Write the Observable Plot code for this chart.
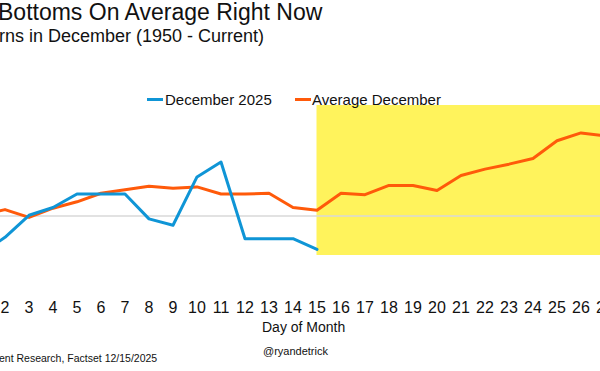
<!DOCTYPE html>
<html>
<head>
<meta charset="utf-8">
<script src="https://cdn.jsdelivr.net/npm/d3@7"></script>
<script src="https://cdn.jsdelivr.net/npm/@observablehq/plot@0.6"></script>
<style>
  html, body { margin: 0; padding: 0; background: #fff; overflow: hidden; }
  #wrap { position: relative; width: 600px; height: 371px; overflow: hidden; font-family: "Liberation Sans", Arial, sans-serif; color: #111; }
  #wrap svg { position: absolute; left: 0; top: 0; overflow: hidden; }
  .t { position: absolute; white-space: nowrap; line-height: 1; }
  .sw { position: absolute; height: 3px; }
</style>
</head>
<body>
<div id="wrap"></div>
<script>
// ---- data (cumulative % return by calendar day of December) ----
const days = [1,2,3,4,5,6,7,8,9,10,11,12,13,14,15,16,17,18,19,20,21,22,23,24,25,26,27];
const dec2025 = [-0.53,-0.30,0.01,0.12,0.31,0.31,0.31,-0.04,-0.13,0.55,0.76,-0.32,-0.32,-0.32,-0.47];
const avgDecember = [0.01,0.09,-0.02,0.11,0.20,0.32,0.37,0.42,0.39,0.41,0.31,0.31,0.32,0.12,0.08,0.32,0.30,0.43,0.43,0.36,0.57,0.66,0.73,0.81,1.06,1.17,1.13];
const tickDays = [2,3,4,5,6,7,8,9,10,11,12,13,14,15,16,17,18,19,20,21,22,23,24,25,26,27];
const highlightDays = [15, 31];
const seriesNames = ["December 2025", "Average December"];
const colors = ["#0f95d6", "#ff5a0a"];

const blueData = dec2025.map((v, i) => ({day: days[i], value: v}));
const orangeData = avgDecember.map((v, i) => ({day: days[i], value: v}));

const chart = Plot.plot({
  width: 600,
  height: 371,
  marginTop: 105,
  marginBottom: 116,
  marginLeft: 0,
  marginRight: 0,
  x: {domain: [1.8125, 26.8125], ticks: tickDays, tickFormat: d => String(d), tickSize: 0, tickPadding: 46, label: null},
  y: {domain: [-0.556, 1.556], axis: null},
  style: {fontFamily: "'Liberation Sans', Arial, sans-serif", fontSize: "16px", color: "#111", background: "transparent"},
  marks: [
    Plot.rect([0], {x1: highlightDays[0], x2: highlightDays[1], fill: "#fff35c", clip: true}),
    Plot.ruleY([0], {stroke: "#d9d9d9", strokeWidth: 1.5}),
    Plot.line(orangeData, {x: "day", y: "value", stroke: colors[1], strokeWidth: 3, clip: true}),
    Plot.line(blueData, {x: "day", y: "value", stroke: colors[0], strokeWidth: 3, clip: true})
  ]
});
const wrap = document.getElementById("wrap");
wrap.appendChild(chart);

function addText(txt, left, top, size, extra) {
  const d = document.createElement("div");
  d.className = "t";
  d.textContent = txt;
  d.style.left = left + "px";
  d.style.top = top + "px";
  d.style.fontSize = size + "px";
  if (extra) Object.assign(d.style, extra);
  wrap.appendChild(d);
  return d;
}
function addSwatch(left, top, width, color) {
  const s = document.createElement("div");
  s.className = "sw";
  s.style.left = left + "px";
  s.style.top = top + "px";
  s.style.width = width + "px";
  s.style.background = color;
  wrap.appendChild(s);
}

addText("Bottoms On Average Right Now", -2, 0.5, 23);
addText("rns in December (1950 - Current)", -1, 27, 18);
addSwatch(147, 97.5, 16, colors[0]);
addText(seriesNames[0], 165, 91.7, 15);
addSwatch(295, 97.5, 16, colors[1]);
addText(seriesNames[1], 312, 91.7, 15);
addText("Day of Month", 262, 320, 14);
addText("@ryandetrick", 263, 345.7, 11);
addText("ent Research, Factset 12/15/2025", -1, 352.6, 10.5);
</script>
</body>
</html>
